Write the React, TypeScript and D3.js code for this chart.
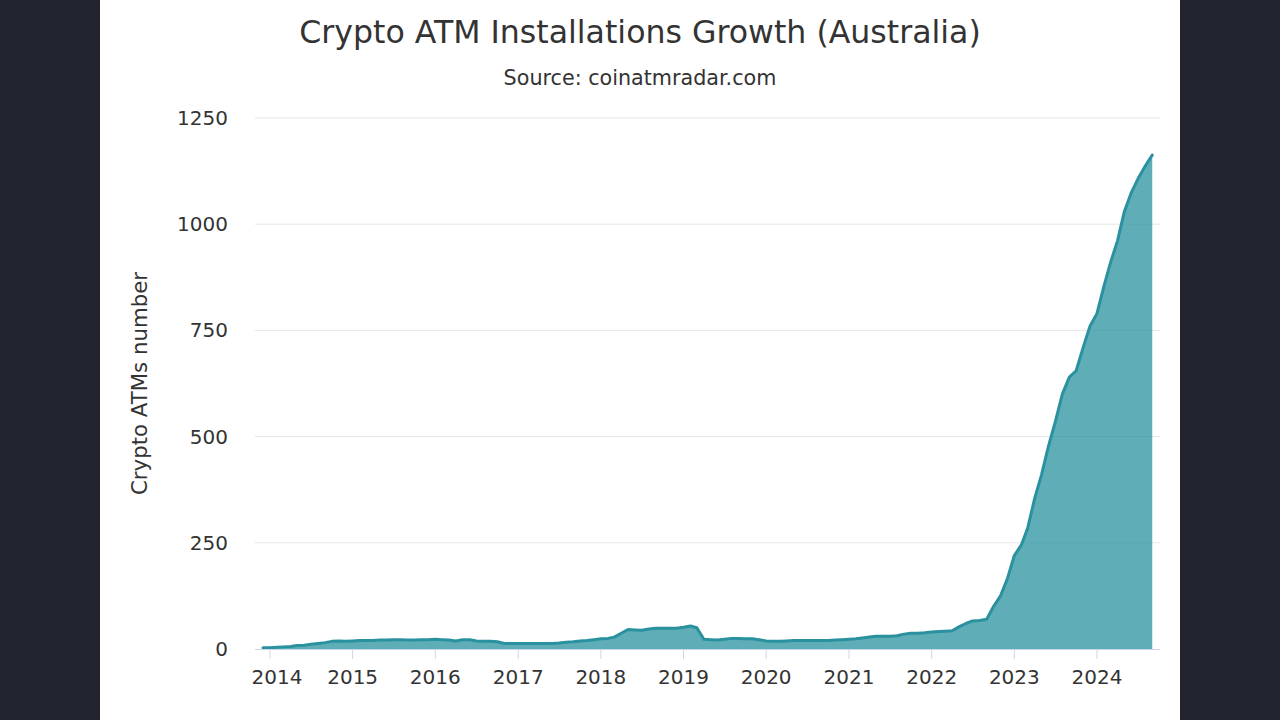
import React from "react";
import * as d3 from "d3";

// ---- Data (monthly, Dec 2013 .. Sep 2024) ----
const startMonth = { year: 2013, month: 11 }; // December 2013 (0-based month)
const v2013 = [3];
const v2014 = [3, 4, 5, 6, 8, 9, 11, 13, 15, 18, 19, 18];
const v2015 = [19, 20, 20, 20, 21, 21, 22, 22, 21, 21, 22, 22];
const v2016 = [23, 22, 21, 19, 22, 22, 19, 18, 18, 17, 13, 13];
const v2017 = [13, 13, 13, 13, 13, 13, 14, 16, 17, 19, 20, 22];
const v2018 = [24, 25, 28, 37, 46, 45, 44, 47, 49, 49, 49, 49];
const v2019 = [51, 54, 50, 23, 22, 21, 23, 25, 25, 24, 24, 22];
const v2020 = [19, 18, 18, 19, 20, 20, 20, 20, 20, 20, 21, 22];
const v2021 = [23, 24, 26, 28, 30, 30, 30, 31, 35, 37, 37, 38];
const v2022 = [40, 41, 42, 43, 52, 60, 66, 67, 70, 100, 125, 165];
const v2023 = [220, 245, 285, 355, 410, 478, 535, 600, 640, 655, 710, 760];
const v2024 = [790, 855, 910, 962, 1030, 1075, 1108, 1137, 1163];

const yTicks = [0, 250, 500, 750, 1000, 1250];
const xTickYears = [2014, 2015, 2016, 2017, 2018, 2019, 2020, 2021, 2022, 2023, 2024];

const titleText = "Crypto ATM Installations Growth (Australia)";
const subtitleText = "Source: coinatmradar.com";
const yAxisTitle = "Crypto ATMs number";

const values = [
  ...v2013, ...v2014, ...v2015, ...v2016, ...v2017, ...v2018,
  ...v2019, ...v2020, ...v2021, ...v2022, ...v2023, ...v2024,
];
const series = values.map((v, i) => ({
  date: new Date(startMonth.year, startMonth.month + i, 1),
  value: v,
}));

// ---- Layout ----
const W = 1280;
const H = 720;
const panelLeft = 100;
const panelRight = 1180;
const plotLeft = 255;
const plotRight = 1160;
const plotTop = 118;
const plotBottom = 649;
const FONT = "'DejaVu Sans', Verdana, sans-serif";

export default function App() {
  const x = d3
    .scaleTime()
    .domain([new Date(2014, 0, 1), new Date(2024, 0, 1)])
    .range([270, 1097]);
  const y = d3.scaleLinear().domain([0, 1250]).range([plotBottom, plotTop]);

  const area = d3
    .area<{ date: Date; value: number }>()
    .x((d) => x(d.date))
    .y0(y(0))
    .y1((d) => y(d.value))
    .curve(d3.curveLinear);
  const line = d3
    .line<{ date: Date; value: number }>()
    .x((d) => x(d.date))
    .y((d) => y(d.value))
    .curve(d3.curveLinear);

  return (
    <div style={{ position: "fixed", left: 0, top: 0, width: W, height: H }}>
      <svg width={W} height={H} style={{ display: "block" }}>
        <rect x={0} y={0} width={W} height={H} fill="#22252f" />
        <rect x={panelLeft} y={0} width={panelRight - panelLeft} height={H} fill="#ffffff" />

        <text
          x={640}
          y={43}
          textAnchor="middle"
          fontFamily={FONT}
          fontSize={31.6}
          fill="#333333"
        >
          {titleText}
        </text>
        <text
          x={640}
          y={85}
          textAnchor="middle"
          fontFamily={FONT}
          fontSize={20.7}
          fill="#333333"
        >
          {subtitleText}
        </text>

        {/* grid lines */}
        {yTicks.map((t) =>
          t === 0 ? null : (
            <line
              key={"g" + t}
              x1={plotLeft}
              x2={plotRight}
              y1={y(t)}
              y2={y(t)}
              stroke="#e6e6e6"
              strokeWidth={1}
            />
          )
        )}

        {/* y labels */}
        {yTicks.map((t) => (
          <text
            key={"yl" + t}
            x={228}
            y={y(t) + 7}
            textAnchor="end"
            fontFamily={FONT}
            fontSize={20}
            fill="#333333"
          >
            {t}
          </text>
        ))}

        <text
          transform={`translate(147, ${(plotTop + plotBottom) / 2}) rotate(-90)`}
          textAnchor="middle"
          fontFamily={FONT}
          fontSize={21.3}
          fill="#333333"
        >
          {yAxisTitle}
        </text>

        {/* area + line */}
        <path d={area(series) || ""} fill="#2a919f" fillOpacity={0.75} />
        <path
          d={line(series) || ""}
          fill="none"
          stroke="#2a919f"
          strokeWidth={3}
          strokeLinejoin="round"
          strokeLinecap="round"
        />

        {/* x axis */}
        <line
          x1={plotLeft}
          x2={plotRight}
          y1={plotBottom + 0.5}
          y2={plotBottom + 0.5}
          stroke="#ccd6eb"
          strokeWidth={1}
        />
        {xTickYears.map((yr, i) => {
          const tx = x(new Date(yr, 0, 1));
          return (
            <g key={"xt" + yr}>
              <line
                x1={tx}
                x2={tx}
                y1={plotBottom}
                y2={plotBottom + 10}
                stroke="#ccd6eb"
                strokeWidth={1}
              />
              <text
                x={i === 0 ? tx + 7 : tx}
                y={684}
                textAnchor="middle"
                fontFamily={FONT}
                fontSize={20}
                fill="#333333"
              >
                {yr}
              </text>
            </g>
          );
        })}
      </svg>
    </div>
  );
}
